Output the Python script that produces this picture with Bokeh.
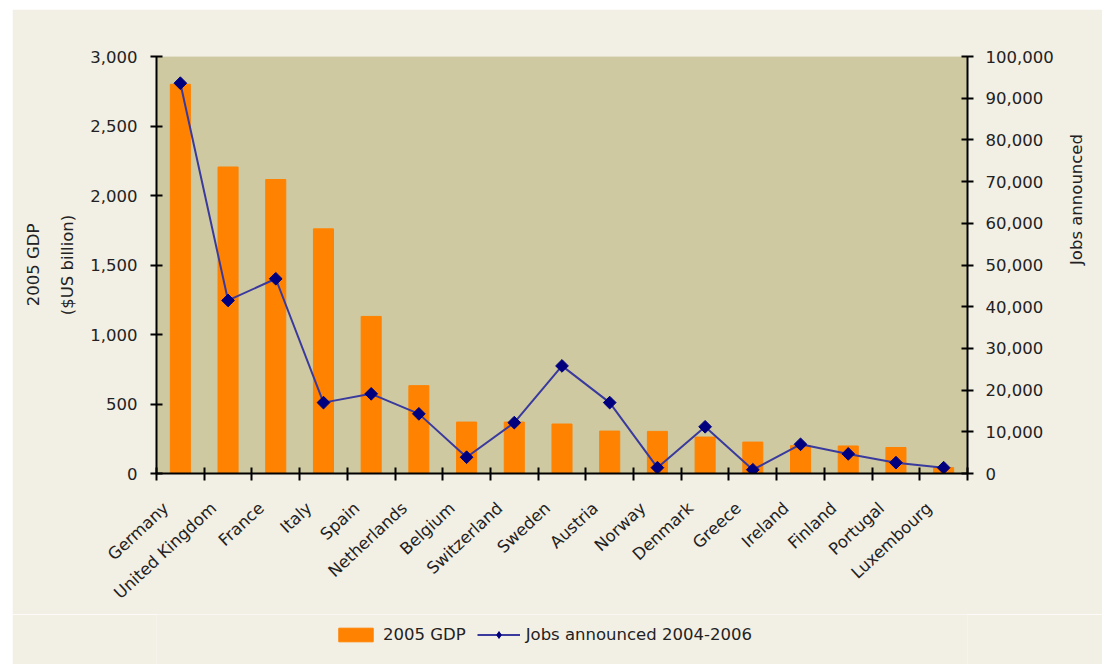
import math
from bokeh.plotting import figure
from bokeh.layouts import column, row
from bokeh.models import (Range1d, LinearAxis, FixedTicker, NumeralTickFormatter,
                          Legend, LegendItem, ColumnDataSource, Spacer)
from bokeh.embed import file_html
from bokeh.resources import INLINE

# ---- data ----
countries = ["Germany", "United Kingdom", "France", "Italy", "Spain", "Netherlands",
             "Belgium", "Switzerland", "Sweden", "Austria", "Norway", "Denmark",
             "Greece", "Ireland", "Finland", "Portugal", "Luxembourg"]
gdp = [2800, 2205, 2115, 1760, 1130, 632, 370, 370, 356, 305, 303, 262, 226, 200, 198, 187, 42]
jobs = [93600, 41500, 46700, 17000, 19100, 14300, 3900, 12200, 25800, 17000, 1400,
        11200, 900, 7000, 4700, 2600, 1400]
gdp_ticks = [0, 500, 1000, 1500, 2000, 2500, 3000]
jobs_ticks = [0, 10000, 20000, 30000, 40000, 50000, 60000, 70000, 80000, 90000, 100000]
series_names = ["2005 GDP", "Jobs announced 2004-2006"]

FONT = "DejaVu Sans"
FS = "16.5px"
TXT = "#222222"
BG = "#F2EFE5"
PLOT_BG = "#CEC9A0"
BAR = "#FF8200"
LINE = "#3A3A9E"
MARK = "#00007F"
LABEL_SHIFT = 0.3   # label anchor offset (in category units) to the left of the bar centre

idx = list(range(len(countries)))
src = ColumnDataSource(dict(x=idx, gdp=gdp, jobs=jobs, name=countries))


def draw_series(fig, visible=True, legend_copy=False):
    b = fig.vbar(x="x", top="gdp", width=0.42, source=src, fill_color=BAR,
                 line_color=BAR, visible=visible)
    l = fig.line(x="x", y="jobs", source=src, y_range_name="jobs", line_color=LINE,
                 line_width=2, visible=visible)
    if legend_copy:
        s = fig.scatter(x="x", y="jobs", source=src, y_range_name="jobs", marker="diamond",
                        size=9, fill_color=MARK, line_color=MARK, visible=visible)
    else:
        s = fig.scatter(x="x", y="jobs", source=src, y_range_name="jobs", marker="square",
                        angle=math.pi / 4, size=9, fill_color=MARK, line_color=MARK,
                        visible=visible)
    return b, l, s


p = figure(width=1090, height=605, output_backend="svg", toolbar_location=None,
           x_range=Range1d(-0.5, len(countries) - 0.5), y_range=Range1d(0, 3000),
           min_border_left=144, min_border_top=47, min_border_right=135,
           min_border_bottom=141)
p.extra_y_ranges = {"jobs": Range1d(0, 100000)}

p.background_fill_color = PLOT_BG
p.border_fill_color = BG
p.outline_line_color = None
p.xgrid.visible = False
p.ygrid.visible = False

draw_series(p)

# x axis: boundary ticks as minor ticks, labels on (slightly shifted) major ticks
label_ticks = [i - LABEL_SHIFT for i in idx]
xa = p.xaxis[0]
xa.ticker = FixedTicker(ticks=label_ticks,
                        minor_ticks=[i - 0.5 for i in range(len(countries) + 1)])
xa.major_label_overrides = {t: c for t, c in zip(label_ticks, countries)}
xa.major_tick_line_color = None
xa.minor_tick_line_color = "black"
xa.minor_tick_line_width = 2
xa.minor_tick_in = 6
xa.minor_tick_out = 7
xa.axis_line_color = "black"
xa.axis_line_width = 2
xa.major_label_orientation = 0.75
xa.major_label_standoff = 25
xa.major_label_text_font = FONT
xa.major_label_text_font_size = FS
xa.major_label_text_color = TXT

# left axis
ya = p.yaxis[0]
ya.ticker = FixedTicker(ticks=gdp_ticks)
ya.formatter = NumeralTickFormatter(format="0,0")
ya.axis_label = "2005 GDP\n($US billion)"
ya.axis_label_text_font = FONT
ya.axis_label_text_font_size = FS
ya.axis_label_text_font_style = "normal"
ya.axis_label_text_color = TXT
ya.axis_label_text_line_height = 1.8
ya.axis_label_standoff = 10
ya.major_label_text_font = FONT
ya.major_label_text_font_size = FS
ya.major_label_text_color = TXT
ya.major_label_standoff = 13
ya.major_tick_in = 6
ya.major_tick_out = 6
ya.major_tick_line_width = 2
ya.minor_tick_line_color = None
ya.axis_line_width = 2

# right axis
ra = LinearAxis(y_range_name="jobs", ticker=FixedTicker(ticks=jobs_ticks),
                formatter=NumeralTickFormatter(format="0,0"),
                axis_label="Jobs announced")
ra.axis_label_orientation = math.pi / 2
ra.axis_label_text_font = FONT
ra.axis_label_text_font_size = FS
ra.axis_label_text_font_style = "normal"
ra.axis_label_text_color = TXT
ra.axis_label_standoff = 20
ra.major_label_text_font = FONT
ra.major_label_text_font_size = FS
ra.major_label_text_color = TXT
ra.major_label_standoff = 12
ra.major_tick_in = 6
ra.major_tick_out = 6
ra.major_tick_line_width = 2
ra.minor_tick_line_color = None
ra.axis_line_width = 2
p.add_layout(ra, "right")

# legend strip below the chart (hidden copies of the series supply the legend glyphs)
lp = figure(width=1090, height=50, output_backend="svg", toolbar_location=None,
            x_range=Range1d(-0.5, len(countries) - 0.5), y_range=Range1d(0, 3000),
            min_border_left=0, min_border_right=0, min_border_top=0, min_border_bottom=0)
lp.extra_y_ranges = {"jobs": Range1d(0, 100000)}
lp.axis.visible = False
lp.grid.visible = False
lp.background_fill_color = BG
lp.border_fill_color = BG
lp.outline_line_color = None
lb, ll, ls = draw_series(lp, visible=False, legend_copy=True)

legend = Legend(items=[LegendItem(label=series_names[0], renderers=[lb]),
                       LegendItem(label=series_names[1], renderers=[ll, ls])],
                orientation="horizontal", location=(178, 20))
legend.background_fill_alpha = 0
legend.border_line_color = None
legend.inactive_fill_alpha = 0
legend.label_text_font = FONT
legend.label_text_font_size = FS
legend.label_text_color = TXT
legend.glyph_width = 43
legend.glyph_height = 17
legend.label_standoff = 6
legend.spacing = 11
legend.padding = 0
legend.margin = 0
lp.add_layout(legend, "center")

layout = column(Spacer(height=9),
                row(Spacer(width=12), column(p, lp, spacing=0), spacing=0),
                spacing=0)

open("out.html", "w").write(file_html(layout, INLINE))
